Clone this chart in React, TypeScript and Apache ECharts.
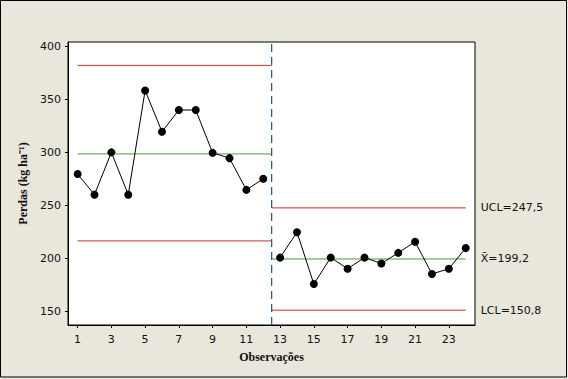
import React, { useEffect, useRef } from "react";
import * as echarts from "echarts";

const obsPhase1 = [1, 2, 3, 4, 5, 6, 7, 8, 9, 10, 11, 12];
const lossPhase1 = [279.5, 260, 300, 260, 358.5, 319.5, 340, 340, 299.5, 294.5, 264.5, 275];
const obsPhase2 = [13, 14, 15, 16, 17, 18, 19, 20, 21, 22, 23, 24];
const lossPhase2 = [200.5, 224.5, 175.5, 200.5, 190, 200.5, 195, 205, 215.5, 185, 190, 209.5];

const limitNames = ["UCL", "X\u0304", "LCL"];
const phase1Limits = [382.2, 298.5, 216.3];
const phase2Limits = [247.5, 199.2, 150.8];
const phase1Span = [1, 12.5];
const phase2Span = [12.5, 24];
const phaseSplit = 12.5;

const xTicks = [1, 3, 5, 7, 9, 11, 13, 15, 17, 19, 21, 23];
const yTicks = [150, 200, 250, 300, 350, 400];
const xRange = [0.43, 24.55];
const yRange = [136.8, 404.3];

const RED = "#C0322E";
const GREEN = "#4E9A36";
const BLUE = "#24507E";
const TICK_FONT = "DejaVu Sans";
const TITLE_FONT = "Liberation Serif";

export default function App() {
  const ref = useRef<HTMLDivElement>(null);

  useEffect(() => {
    if (!ref.current) return;
    const chart = echarts.init(ref.current, undefined, { renderer: "svg" });

    const limitSeries: any[] = [];
    limitNames.forEach((name, i) => {
      const color = i === 1 ? GREEN : RED;
      limitSeries.push({
        type: "line",
        data: phase1Span.map((x) => [x, phase1Limits[i]]),
        showSymbol: false,
        symbol: "none",
        lineStyle: { color, width: 1 },
        silent: true,
        z: 1,
      });
      const v = phase2Limits[i];
      limitSeries.push({
        type: "line",
        data: phase2Span.map((x) => [x, v]),
        showSymbol: false,
        symbol: "none",
        lineStyle: { color, width: 1 },
        silent: true,
        z: 1,
        endLabel: {
          show: true,
          formatter: () => `${name}=${String(v).replace(".", ",")}`,
          distance: 15,
          color: "#111",
          fontSize: 11,
          fontFamily: TICK_FONT,
        },
      });
    });

    const dataSeriesStyle = {
      type: "line",
      symbol: "circle",
      symbolSize: 8,
      itemStyle: { color: "#000" },
      lineStyle: { color: "#000", width: 1 },
      z: 3,
    };

    chart.setOption({
      animation: false,
      backgroundColor: "#E9E6DC",
      graphic: [
        {
          type: "rect",
          shape: { x: 0.5, y: 0.5, width: 566, height: 376.5 },
          style: { fill: "none", stroke: "#000", lineWidth: 1 },
          silent: true,
          z: 100,
        },
      ],
      grid: {
        left: 68,
        top: 42,
        width: 407,
        height: 283,
        show: true,
        backgroundColor: "#fff",
        borderColor: "#000",
        borderWidth: 1,
      },
      xAxis: {
        type: "value",
        min: xRange[0],
        max: xRange[1],
        name: "Observações",
        nameLocation: "middle",
        nameGap: 26,
        nameTextStyle: { fontFamily: TITLE_FONT, fontWeight: "bold", fontSize: 12, color: "#111" },
        axisLine: { show: true, onZero: false, lineStyle: { color: "#000" } },
        axisTick: { show: true, length: 3, customValues: xTicks, lineStyle: { color: "#000" } },
        axisLabel: { customValues: xTicks, margin: 9, fontFamily: TICK_FONT, fontSize: 11, color: "#111" },
        splitLine: { show: false },
      },
      yAxis: {
        type: "value",
        min: yRange[0],
        max: yRange[1],
        name: "Perdas (kg ha\u207B\u00B9)",
        nameLocation: "middle",
        nameGap: 36,
        nameTextStyle: { fontFamily: TITLE_FONT, fontWeight: "bold", fontSize: 12, color: "#111" },
        axisLine: { show: true, onZero: false, lineStyle: { color: "#000" } },
        axisTick: { show: true, length: 3, customValues: yTicks, lineStyle: { color: "#000" } },
        axisLabel: { customValues: yTicks, margin: 7, fontFamily: TICK_FONT, fontSize: 11, color: "#111" },
        splitLine: { show: false },
      },
      series: [
        ...limitSeries,
        {
          type: "line",
          data: yRange.map((y) => [phaseSplit, y]),
          showSymbol: false,
          symbol: "none",
          silent: true,
          lineStyle: { type: [8, 5], color: BLUE, width: 1.2 },
          z: 2,
        },
        {
          ...dataSeriesStyle,
          data: obsPhase1.map((x, i) => [x, lossPhase1[i]]),
        },
        {
          ...dataSeriesStyle,
          data: obsPhase2.map((x, i) => [x, lossPhase2[i]]),
        },
      ],
    });

    return () => chart.dispose();
  }, []);

  return (
    <div
      ref={ref}
      style={{ position: "absolute", left: 0, top: 0, width: 568, height: 379 }}
    />
  );
}
